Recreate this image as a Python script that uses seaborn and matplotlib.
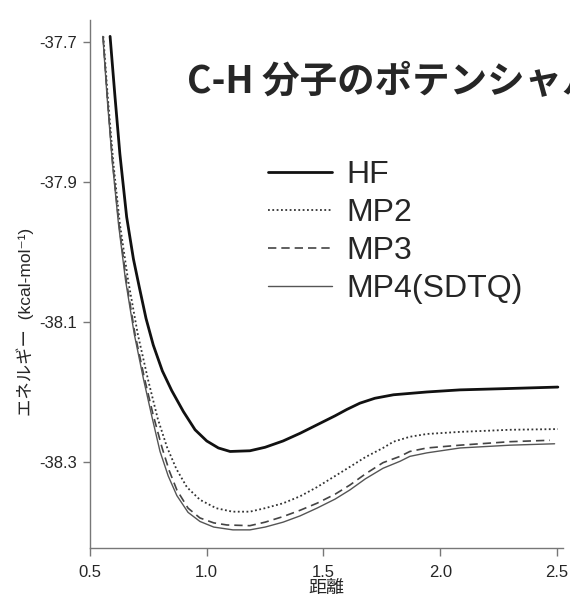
import numpy as np
import pandas as pd
import matplotlib
matplotlib.use("Agg")
import matplotlib.pyplot as plt
import seaborn as sns

# values (distance, energy)
hf_r = [0.586, 0.607, 0.628, 0.657, 0.686, 0.711, 0.740, 0.771, 0.810, 0.850, 0.900, 0.950, 1.00, 1.05,
        1.10, 1.185, 1.25, 1.327, 1.40, 1.472, 1.55, 1.60, 1.656, 1.72, 1.80, 1.943, 2.085, 2.30, 2.504]
hf_e = [-37.692, -37.778, -37.860, -37.950, -38.010, -38.050, -38.095, -38.133, -38.170, -38.198,
        -38.228, -38.254, -38.270, -38.280, -38.285, -38.284, -38.279, -38.270, -38.259, -38.247,
        -38.234, -38.225, -38.216, -38.209, -38.204, -38.200, -38.197, -38.195, -38.193]

mp2_r = [0.557, 0.576, 0.600, 0.628, 0.663, 0.705, 0.749, 0.790, 0.830, 0.870, 0.915, 0.971, 1.040,
         1.11, 1.185, 1.25, 1.327, 1.40, 1.472, 1.55, 1.613, 1.68, 1.755, 1.80, 1.870, 1.943, 2.085,
         2.30, 2.504]
mp2_e = [-37.692, -37.778, -37.873, -37.960, -38.040, -38.118, -38.183, -38.238, -38.279, -38.310,
         -38.336, -38.354, -38.366, -38.371, -38.371, -38.366, -38.359, -38.349, -38.336, -38.320,
         -38.307, -38.293, -38.280, -38.271, -38.264, -38.260, -38.257, -38.254, -38.253]

mp3_r = [0.556, 0.574, 0.597, 0.624, 0.655, 0.693, 0.735, 0.770, 0.808, 0.840, 0.872, 0.920, 0.971,
         1.03, 1.086, 1.185, 1.25, 1.327, 1.40, 1.472, 1.55, 1.613, 1.68, 1.755, 1.828, 1.870, 1.943,
         2.085, 2.30, 2.47]
mp3_e = [-37.692, -37.778, -37.873, -37.960, -38.040, -38.118, -38.183, -38.232, -38.279, -38.313,
         -38.340, -38.366, -38.380, -38.387, -38.390, -38.391, -38.386, -38.378, -38.369, -38.359,
         -38.346, -38.333, -38.317, -38.301, -38.292, -38.285, -38.280, -38.276, -38.271, -38.269]

mp4_r = [0.555, 0.573, 0.596, 0.622, 0.652, 0.690, 0.730, 0.765, 0.800, 0.835, 0.872, 0.920, 0.971,
         1.03, 1.112, 1.185, 1.25, 1.327, 1.40, 1.472, 1.55, 1.613, 1.68, 1.755, 1.828, 1.870, 1.943,
         2.085, 2.30, 2.49]
mp4_e = [-37.692, -37.778, -37.873, -37.960, -38.040, -38.118, -38.183, -38.235, -38.285, -38.320,
         -38.348, -38.372, -38.385, -38.393, -38.397, -38.397, -38.393, -38.386, -38.377, -38.366,
         -38.353, -38.340, -38.324, -38.309, -38.299, -38.292, -38.287, -38.280, -38.276, -38.274]

labels = ["HF", "MP2", "MP3", "MP4(SDTQ)"]
x_ticks = [0.5, 1.0, 1.5, 2.0, 2.5]
y_ticks = [-37.7, -37.9, -38.1, -38.3]

sns.set_style("ticks")
plt.rcParams["font.family"] = ["Liberation Sans", "Noto Sans CJK JP", "DejaVu Sans"]
plt.rcParams["axes.unicode_minus"] = False

fig = plt.figure(figsize=(5.7, 5.98), dpi=100)
ax = fig.add_axes([90 / 570, 50 / 598, 473 / 570, 528 / 598])

styles = [
    dict(color="#111111", lw=2.0, ls="-"),
    dict(color="#333333", lw=1.3, ls=(0, (1, 1.4))),
    dict(color="#444444", lw=1.2, ls=(0, (5, 3))),
    dict(color="#555555", lw=1.0, ls="-"),
]
series = [(hf_r, hf_e), (mp2_r, mp2_e), (mp3_r, mp3_e), (mp4_r, mp4_e)]
for (r, e), lab, st in zip(series, labels, styles):
    df = pd.DataFrame({"r": r, "e": e})
    sns.lineplot(data=df, x="r", y="e", ax=ax, label=lab, **st)

ax.set_xlim(0.5, 2.526)
ax.set_ylim(-38.4229, -37.6686)
ax.set_xticks(x_ticks)
ax.set_xticklabels([f"{v:.1f}" for v in x_ticks])
ax.set_yticks(y_ticks)
ax.set_yticklabels([f"{v:.1f}" for v in y_ticks])

sns.despine(ax=ax)
for s in ["left", "bottom"]:
    ax.spines[s].set_color("#777777")
    ax.spines[s].set_linewidth(1.0)
ax.tick_params(axis="y", length=5, width=1, color="#777777", pad=4, labelsize=12)
ax.tick_params(axis="x", length=6, width=1, color="#777777", pad=6, labelsize=12)

ax.set_xlabel("距離", fontsize=13, labelpad=0)
ax.set_ylabel("エネルギー  (kcal-mol⁻¹)", fontsize=12.5)
ax.yaxis.set_label_coords(-0.118, 0.428)

leg = ax.legend(loc="center left", bbox_to_anchor=(0.376, 0.598), frameon=False,
                fontsize=23, handlelength=2.0, handletextpad=0.45,
                labelspacing=0.25, borderpad=0, borderaxespad=0)

fig.text(187 / 570, 1 - 82 / 598, "C-H 分子のポテンシャル", fontsize=27,
         fontweight="bold", family=["Noto Sans CJK JP", "DejaVu Sans"],
         ha="left", va="center")

fig.savefig("out.png", dpi=100)
